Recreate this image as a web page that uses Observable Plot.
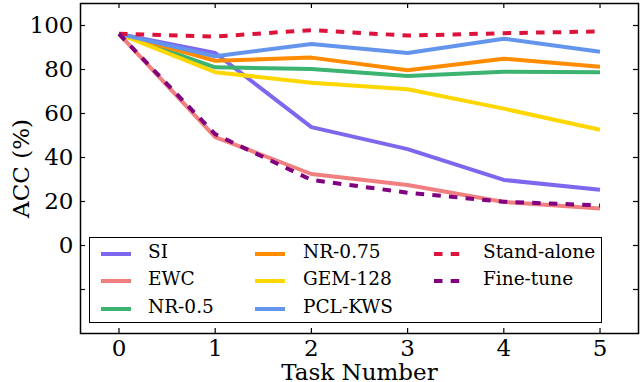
<!DOCTYPE html>
<html>
<head>
<meta charset="utf-8">
<script src="https://cdn.jsdelivr.net/npm/d3@7"></script>
<script src="https://cdn.jsdelivr.net/npm/@observablehq/plot@0.6"></script>
<style>
  html, body { margin: 0; padding: 0; background: #fff; overflow: hidden; }
  #wrap { position: relative; width: 640px; height: 382px; }
  #legend {
    position: absolute; left: 89px; top: 237px; width: 511px; height: 84px;
    border: 1.5px solid #000; background: #fff;
    font-family: "DejaVu Serif", serif; font-size: 18.5px; color: #000;
  }
  .item { position: absolute; height: 20px; line-height: 20px; white-space: nowrap; }
  .item svg { position: absolute; left: 0; top: 8px; }
  .item span { position: absolute; top: -1px; font-family: "DejaVu Serif", serif; }
</style>
</head>
<body>
<div id="wrap"></div>
<script>
const tasks = [0, 1, 2, 3, 4, 5];
const seriesNames = ["SI", "EWC", "NR-0.5", "NR-0.75", "GEM-128", "PCL-KWS", "Stand-alone", "Fine-tune"];
const si        = [96.2, 87.5, 53.8, 43.8, 29.8, 25.3];
const ewc       = [96.2, 49.3, 32.5, 27.5, 19.8, 16.8];
const nr05      = [96.2, 81.0, 80.2, 77.0, 79.0, 78.7];
const nr075     = [96.2, 84.0, 85.4, 79.7, 84.9, 81.2];
const gem128    = [96.2, 78.8, 74.0, 71.0, 62.2, 52.6];
const pclkws    = [96.2, 86.0, 91.6, 87.5, 94.0, 88.1];
const standalone= [96.2, 95.0, 97.9, 95.4, 96.5, 97.3];
const finetune  = [96.2, 50.6, 29.8, 24.0, 19.9, 18.2];
const colors = ["#7b68ee", "#f08080", "#3cb371", "#ff8c00", "#ffd700", "#6495ed", "#dc143c", "#800080"];
const dashed = [false, false, false, false, false, false, true, true];
const xTicks = [0, 1, 2, 3, 4, 5];
const yTicks = [-20, 0, 20, 40, 60, 80, 100];
const yTickLabels = ["", "0", "20", "40", "60", "80", "100"];

const allValues = [si, ewc, nr05, nr075, gem128, pclkws, standalone, finetune];
const rows = [];
seriesNames.forEach((name, i) => {
  tasks.forEach((t, j) => rows.push({series: name, task: t, acc: allValues[i][j]}));
});

const W = 640, H = 382;
const mL = 80, mR = 2, mT = 3, mB = 49;
const frameW = W - mL - mR, frameH = H - mT - mB;
const tick = 5;

const lineMarks = seriesNames.map((name, i) => Plot.line(rows.filter(r => r.series === name), {
  x: "task", y: "acc", stroke: colors[i], strokeWidth: 4,
  strokeDasharray: dashed[i] ? "8.5,8.2" : null,
  strokeLinejoin: "round", strokeLinecap: "butt"
}));

const chart = Plot.plot({
  width: W, height: H,
  marginLeft: mL, marginRight: mR, marginTop: mT, marginBottom: mB,
  style: {fontFamily: "DejaVu Serif", fontSize: "23px", color: "#000", background: "#fff"},
  x: {domain: [-0.4, 5.4]},
  y: {domain: [-40, 110]},
  marks: [
    ...lineMarks,
    Plot.tickX(xTicks, {x: d => d, insetTop: frameH - tick, stroke: "#000", strokeWidth: 1.2}),
    Plot.tickX(xTicks, {x: d => d, insetBottom: frameH - tick, stroke: "#000", strokeWidth: 1.2}),
    Plot.tickY(yTicks, {y: d => d, insetRight: frameW - tick, stroke: "#000", strokeWidth: 1.2}),
    Plot.tickY(yTicks, {y: d => d, insetLeft: frameW - tick, stroke: "#000", strokeWidth: 1.2}),
    Plot.axisX(xTicks, {tickSize: 0, tickPadding: 6, fontSize: 23, fontFamily: "DejaVu Serif", label: "Task Number",
      labelAnchor: "center", labelOffset: 46, labelArrow: "none"}),
    Plot.axisY(yTicks, {tickSize: 0, tickPadding: 7, fontSize: 23, fontFamily: "DejaVu Serif",
      tickFormat: d => yTickLabels[yTicks.indexOf(d)],
      label: "ACC (%)", labelAnchor: "center", labelOffset: 68, labelArrow: "none"}),
    Plot.frame({stroke: "#000", strokeWidth: 1.5})
  ]
});

const wrap = document.getElementById("wrap");
wrap.appendChild(chart);

// legend overlay
const legend = document.createElement("div");
legend.id = "legend";
const colX = [[11, 58], [165, 213], [344, 393]];
const rowY = [5, 32, 60];
const layout = [[0,0],[0,1],[0,2],[1,0],[1,1],[1,2],[2,0],[2,1]];
seriesNames.forEach((name, i) => {
  const [c, r] = layout[i];
  const item = document.createElement("div");
  item.className = "item";
  item.style.left = colX[c][0] + "px";
  item.style.top = rowY[r] + "px";
  const dash = dashed[i] ? ' stroke-dasharray="8.5,8.2"' : "";
  item.innerHTML = `<svg width="32" height="6"><line x1="0" y1="3" x2="30" y2="3" stroke="${colors[i]}" stroke-width="4"${dash}/></svg>` +
    `<span style="left:${colX[c][1] - colX[c][0]}px">${name}</span>`;
  legend.appendChild(item);
});
wrap.appendChild(legend);
</script>
</body>
</html>
